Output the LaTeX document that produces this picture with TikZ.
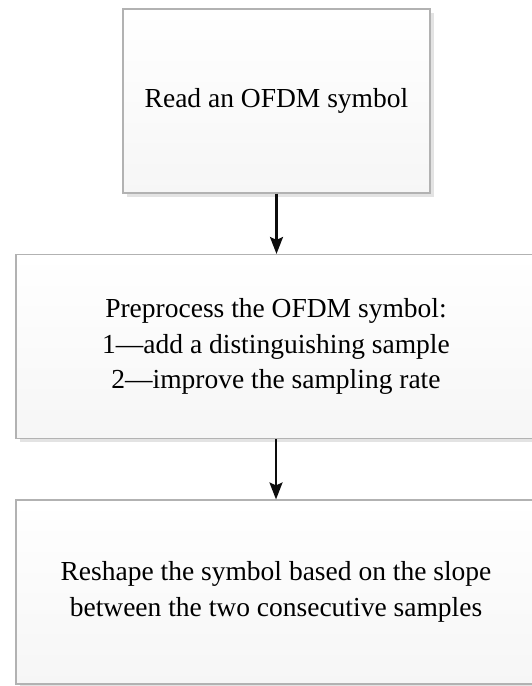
\documentclass[tikz,border=0pt]{standalone}
\usepackage{fontspec}
\setmainfont{Liberation Serif}
\usepackage{tikz}
\usetikzlibrary{arrows.meta,shadows}

\begin{document}
\begin{tikzpicture}[
    x=1pt, y=-1pt,
    stepbox/.style={draw=gray!60, line width=1.1pt, top color=white, bottom color=gray!7,
                    drop shadow={shadow xshift=3.5pt, shadow yshift=-3.5pt, fill=gray!22, opacity=1},
                    minimum height=184pt, align=center, inner sep=0pt,
                    font=\fontsize{27.5}{35.5}\selectfont},
    flowarrow/.style={-{Stealth[length=17pt, width=13pt, inset=3pt]}, line width=2.4pt, color=black!95}
]
\useasboundingbox (0,0) rectangle (531,686);

%% Step 1: read
\node[stepbox, minimum width=307pt] (read) at (276.5, 101) {Read an OFDM symbol};

%% Step 2: preprocessing
\node[stepbox, minimum width=520pt] (prep) at (276, 346.5)
    {Preprocess the OFDM symbol:\\1—add a distinguishing sample\\2—improve the sampling rate};

%% Step 3: reshaping
\node[stepbox, minimum width=520pt] (reshape) at (276, 592)
    {Reshape the symbol based on the slope\\between the two consecutive samples};

%% Arrows between steps
\draw[flowarrow] (read.south) -- (read.south |- prep.north);
\draw[flowarrow] (prep.south) -- (prep.south |- reshape.north);

\end{tikzpicture}
\end{document}
